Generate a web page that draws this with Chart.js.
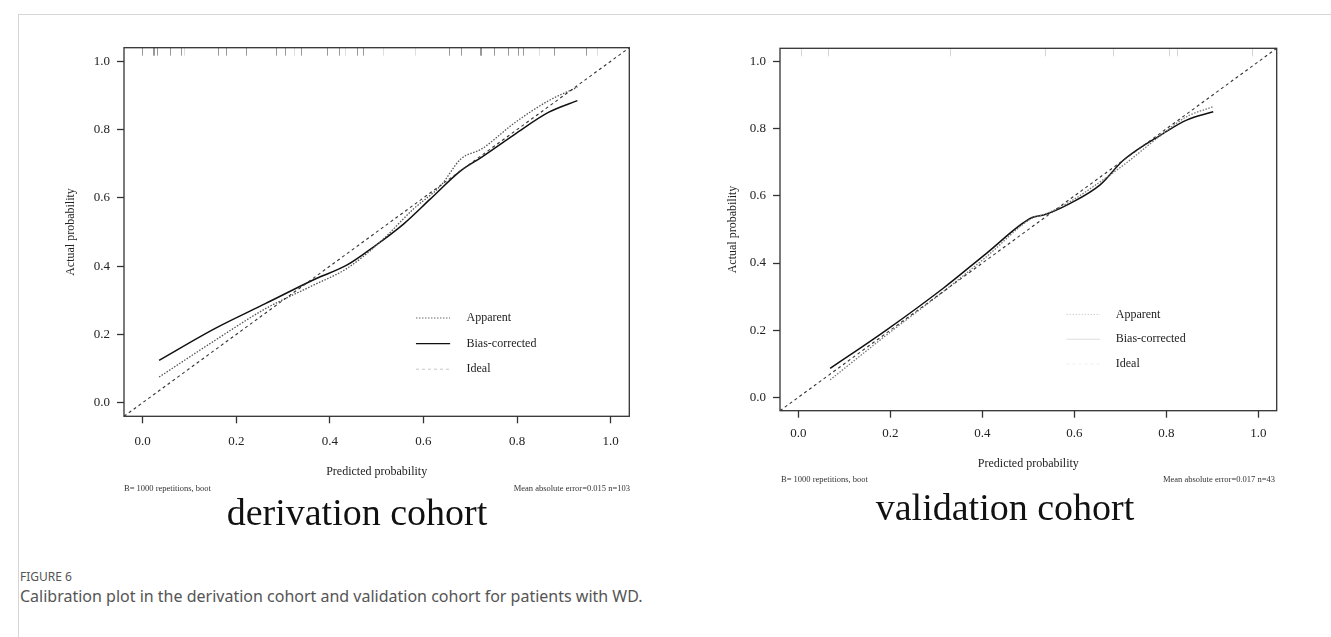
<!DOCTYPE html>
<html>
<head>
<meta charset="utf-8">
<script src="https://cdn.jsdelivr.net/npm/chart.js@4.4.1/dist/chart.umd.min.js"></script>
<style>
  html, body { margin: 0; padding: 0; background: #fff; }
  body { width: 1331px; height: 637px; position: relative; overflow: hidden; font-family: "Liberation Serif", "DejaVu Serif", serif; }
  .frame { position: absolute; left: 18px; top: 14px; width: 1320px; height: 640px; border-left: 1px solid #d6d6d6; border-top: 1px solid #d6d6d6; }
  canvas { position: absolute; }
  .note { position: absolute; font-size: 8.5px; line-height: 10px; color: #333; white-space: nowrap; }
  .note.r { text-align: right; width: 200px; }
  .cohort { position: absolute; font-size: 38px; line-height: 40px; color: #111; white-space: nowrap; transform: translateX(-50%); }
  .figlabel { position: absolute; left: 20px; top: 568px; font-family: "Noto Sans", "Open Sans", sans-serif; font-size: 12px; color: #555; }
  .caption { position: absolute; left: 20px; top: 585px; font-family: "Noto Sans", "Open Sans", sans-serif; font-size: 16px; color: #555; }
</style>
</head>
<body>
<div class="frame"></div>

<canvas id="derivation" width="600" height="460" style="left:50px;top:30px"></canvas>
<canvas id="validation" width="590" height="460" style="left:710px;top:30px"></canvas>

<div class="note" style="left:124px;top:483px">B= 1000 repetitions, boot</div>
<div class="note r" style="left:430px;top:483px">Mean absolute error=0.015 n=103</div>
<div class="note" style="left:781px;top:474px">B= 1000 repetitions, boot</div>
<div class="note r" style="left:1075px;top:474px">Mean absolute error=0.017 n=43</div>

<div class="cohort" style="left:357px;top:492px">derivation cohort</div>
<div class="cohort" style="left:1005px;top:487px">validation cohort</div>

<div class="figlabel">FIGURE 6</div>
<div class="caption">Calibration plot in the derivation cohort and validation cohort for patients with WD.</div>

<script>
// axis ticks shared by both panels
const tickVals = [0, 0.2, 0.4, 0.6, 0.8, 1.0];
const idealX = [-0.04, 1.04];
const legendLabels = ['Apparent', 'Bias-corrected', 'Ideal'];

// derivation cohort
const derivAppX  = [0.035, 0.154, 0.262, 0.363, 0.435, 0.507, 0.579, 0.637, 0.680, 0.724, 0.796, 0.868, 0.929];
const derivAppY  = [0.075, 0.182, 0.275, 0.343, 0.392, 0.470, 0.568, 0.636, 0.714, 0.743, 0.821, 0.885, 0.924];
const derivBiasX = [0.035, 0.154, 0.262, 0.370, 0.435, 0.493, 0.558, 0.615, 0.680, 0.724, 0.796, 0.868, 0.929];
const derivBiasY = [0.124, 0.217, 0.290, 0.363, 0.402, 0.456, 0.524, 0.597, 0.680, 0.719, 0.787, 0.851, 0.885];
const derivRug   = [-0.001, 0.021, 0.025, 0.030, 0.059, 0.081, 0.161, 0.179, 0.221, 0.284, 0.305, 0.339,
                    0.394, 0.419, 0.458, 0.470, 0.654, 0.681, 0.720, 0.724, 0.751, 0.781, 0.803, 0.812, 0.879, 0.947];
const derivRugLight = [0.089, 0.323, 0.432, 0.514, 0.582, 0.847, 0.971];

// validation cohort
const validAppX  = [0.069, 0.192, 0.315, 0.409, 0.507, 0.540, 0.591, 0.656, 0.707, 0.793, 0.844, 0.902];
const validAppY  = [0.052, 0.186, 0.315, 0.419, 0.533, 0.548, 0.583, 0.642, 0.692, 0.786, 0.836, 0.866];
const validBiasX = [0.069, 0.192, 0.315, 0.409, 0.507, 0.533, 0.591, 0.656, 0.707, 0.793, 0.844, 0.902];
const validBiasY = [0.086, 0.201, 0.325, 0.429, 0.535, 0.543, 0.578, 0.633, 0.707, 0.786, 0.826, 0.851];
const validRug   = [];
const validRugLight = [0.006, 0.065, 0.330, 0.537, 0.685, 0.806, 0.824, 0.987];

const serif = '"Liberation Serif", "DejaVu Serif", serif';
const toXY = (xs, ys) => xs.map((x, i) => ({x: x, y: ys[i]}));

// box around the plot region, like base R graphics
const boxPlugin = {
  id: 'box',
  afterDraw(chart) {
    const a = chart.chartArea, c = chart.ctx;
    c.save();
    c.strokeStyle = '#333';
    c.lineWidth = 1.3;
    c.strokeRect(a.left, a.top, a.right - a.left, a.bottom - a.top);
    c.restore();
  }
};

// spike marks along the top of the panel
const rugPlugin = {
  id: 'rug',
  afterDatasetsDraw(chart, args, opts) {
    const a = chart.chartArea, c = chart.ctx, xs = chart.scales.x;
    c.save();
    c.lineWidth = 1;
    [[opts.values, opts.color], [opts.light, opts.lightColor]].forEach(([vals, col]) => {
      c.strokeStyle = col;
      vals.forEach(v => {
        const px = Math.round(xs.getPixelForValue(v)) + 0.5;
        c.beginPath();
        c.moveTo(px, a.top);
        c.lineTo(px, a.top + opts.len);
        c.stroke();
      });
    });
    c.restore();
  }
};

// legend placed inside the plot, anchored in data units
const calLegend = {
  id: 'calLegend',
  afterDraw(chart, args, opts) {
    const c = chart.ctx, xs = chart.scales.x, ys = chart.scales.y;
    c.save();
    c.font = '12px ' + serif;
    c.textBaseline = 'middle';
    legendLabels.forEach((lab, i) => {
      const st = opts.styles[i];
      const y = ys.getPixelForValue(opts.y - i * opts.step);
      const x0 = xs.getPixelForValue(opts.x);
      const x1 = xs.getPixelForValue(opts.x + opts.len);
      c.strokeStyle = st.color;
      c.lineWidth = st.width;
      c.setLineDash(st.dash);
      c.beginPath();
      c.moveTo(x0, y);
      c.lineTo(x1, y);
      c.stroke();
      c.setLineDash([]);
      c.fillStyle = '#222';
      c.fillText(lab, xs.getPixelForValue(opts.x + opts.textOff), y);
    });
    c.restore();
  }
};

function calPlot(id, cfg) {
  return new Chart(document.getElementById(id), {
    type: 'scatter',
    data: {
      datasets: [
        { label: 'Ideal', data: toXY(idealX, idealX), showLine: true, pointRadius: 0,
          borderColor: '#333', borderWidth: 1.1, borderDash: [3, 3] },
        { label: 'Apparent', data: toXY(cfg.appX, cfg.appY), showLine: true, pointRadius: 0,
          borderColor: cfg.appColor, borderWidth: 1.3, borderDash: [1.5, 1.5], cubicInterpolationMode: 'monotone' },
        { label: 'Bias-corrected', data: toXY(cfg.biasX, cfg.biasY), showLine: true, pointRadius: 0,
          borderColor: '#111', borderWidth: 1.5, cubicInterpolationMode: 'monotone' }
      ]
    },
    options: {
      responsive: false,
      animation: false,
      layout: { padding: cfg.pad },
      plugins: {
        legend: { display: false },
        tooltip: { enabled: false },
        rug: cfg.rug,
        calLegend: cfg.legend
      },
      scales: {
        x: {
          type: 'linear', min: -0.04, max: 1.04,
          afterBuildTicks: ax => { ax.ticks = tickVals.map(v => ({value: v})); },
          afterFit: ax => { ax.height = cfg.xAxisH; },
          border: { display: false },
          grid: { drawOnChartArea: false, tickLength: 7, tickColor: '#333', tickWidth: 1.3 },
          ticks: { padding: cfg.xTickPad, color: '#222', font: { family: serif, size: 13 },
                   maxRotation: 0, autoSkip: false, callback: v => v.toFixed(1) },
          title: { display: true, text: 'Predicted probability', color: '#222',
                   font: { family: serif, size: 12 }, padding: { top: 0, bottom: 1 } }
        },
        y: {
          type: 'linear', min: -0.04, max: 1.04,
          afterBuildTicks: ax => { ax.ticks = tickVals.map(v => ({value: v})); },
          afterFit: ax => { ax.width = cfg.yAxisW; },
          border: { display: false },
          grid: { drawOnChartArea: false, tickLength: 7, tickColor: '#333', tickWidth: 1.3 },
          ticks: { padding: 7, color: '#222', font: { family: serif, size: 13 },
                   autoSkip: false, callback: v => v.toFixed(1) },
          title: { display: true, text: 'Actual probability', color: '#222',
                   font: { family: serif, size: 12 }, padding: { top: cfg.yTitlePad, bottom: 0 } }
        }
      }
    },
    plugins: [boxPlugin, rugPlugin, calLegend]
  });
}

calPlot('derivation', {
  appX: derivAppX, appY: derivAppY, biasX: derivBiasX, biasY: derivBiasY,
  appColor: '#555',
  pad: { left: 0, right: 20.7, top: 17.7, bottom: 9.7 },
  xAxisH: 64, yAxisW: 74, xTickPad: 10, yTitlePad: 13.8,
  rug: { values: derivRug, light: derivRugLight, color: '#999', lightColor: '#ddd', len: 8 },
  legend: { x: 0.584, y: 0.248, step: 0.075, len: 0.073, textOff: 0.108,
    styles: [
      { color: '#666', width: 1.1, dash: [1.5, 1.5] },
      { color: '#111', width: 1.4, dash: [] },
      { color: '#c8c8c8', width: 1, dash: [3, 3] }
    ] }
});

calPlot('validation', {
  appX: validAppX, appY: validAppY, biasX: validBiasX, biasY: validBiasY,
  appColor: '#777',
  pad: { left: 0, right: 23.3, top: 18.3, bottom: 17.8 },
  xAxisH: 61.5, yAxisW: 70, xTickPad: 8, yTitlePad: 15.8,
  rug: { values: validRug, light: validRugLight, color: '#bbb', lightColor: '#d4d4d4', len: 8 },
  legend: { x: 0.583, y: 0.247, step: 0.074, len: 0.073, textOff: 0.107,
    styles: [
      { color: '#d0d0d0', width: 1, dash: [1.5, 1.5] },
      { color: '#dddddd', width: 1, dash: [] },
      { color: '#f0f0f0', width: 1, dash: [3, 3] }
    ] }
});
</script>
</body>
</html>
